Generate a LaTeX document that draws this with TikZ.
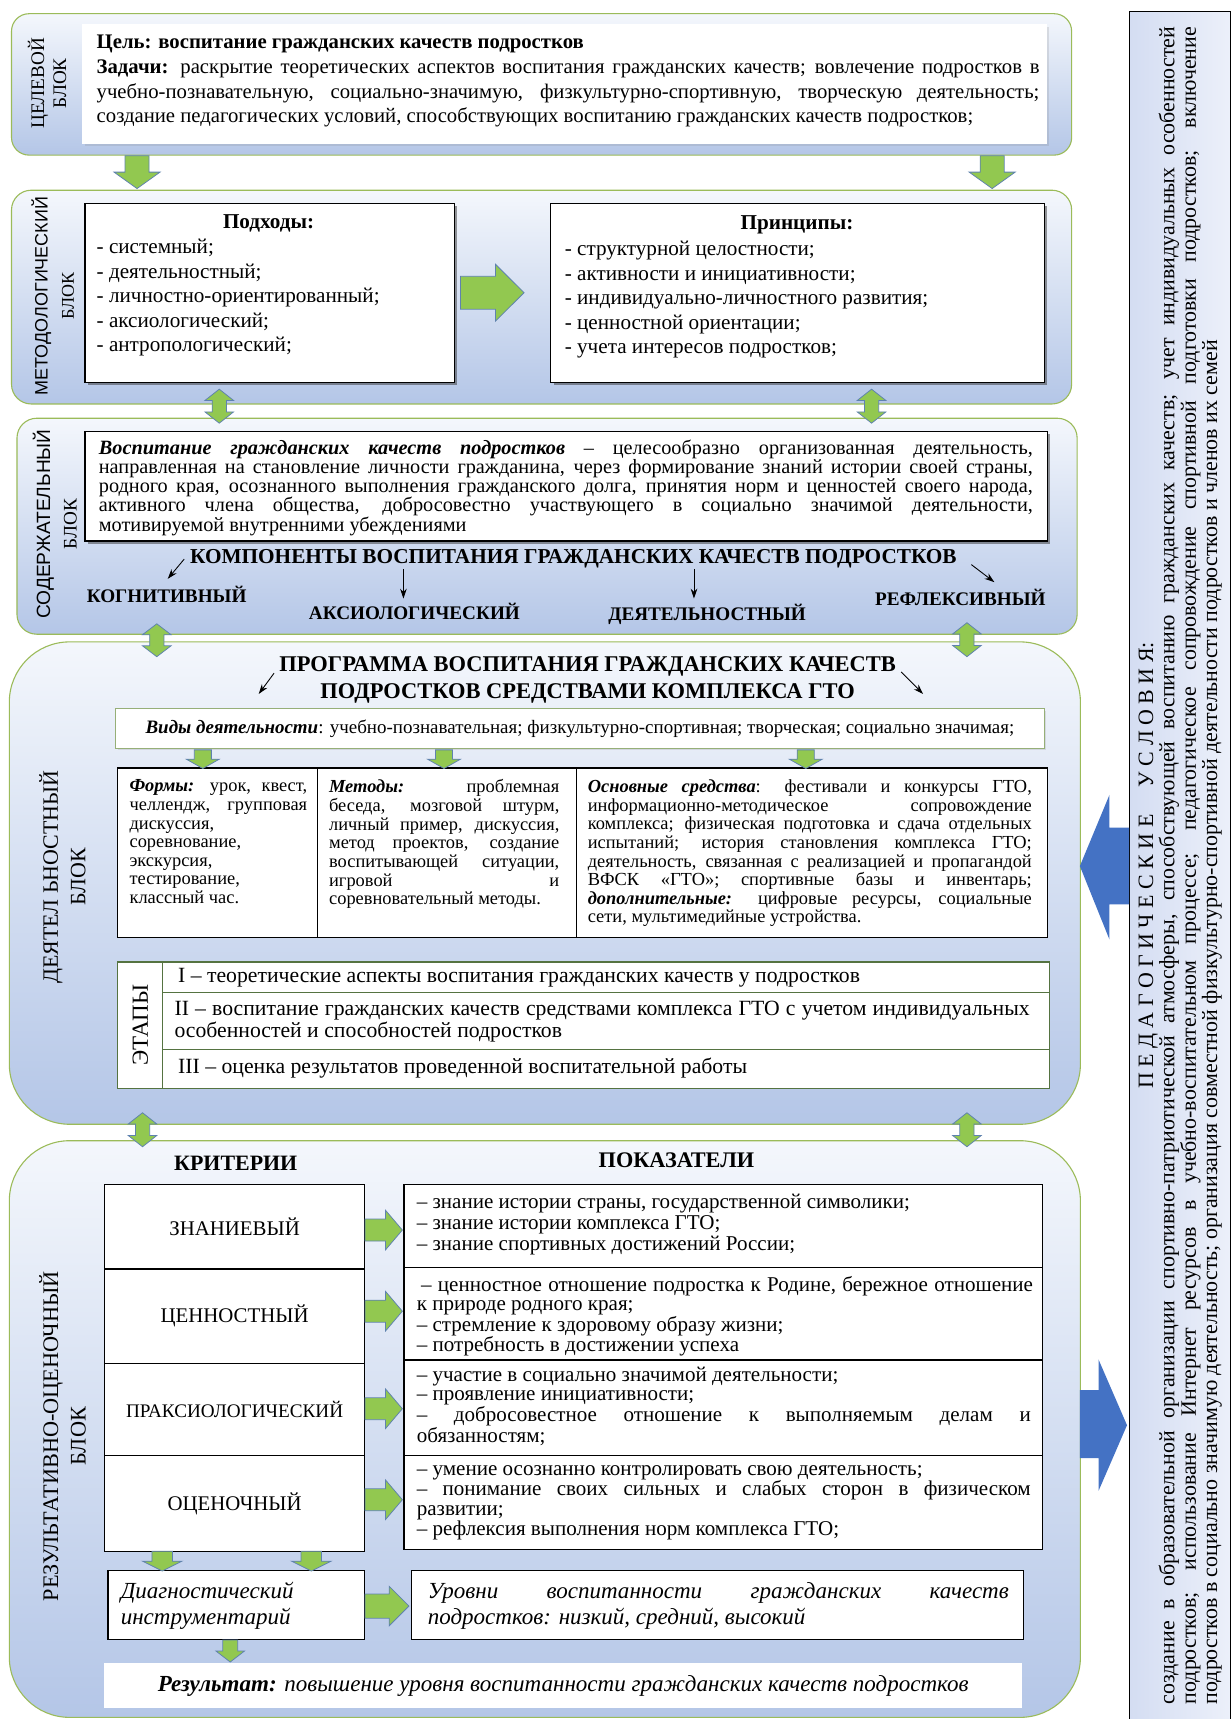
\documentclass[tikz,border=0pt]{standalone}
\usepackage{fontspec}
\setmainfont{Liberation Serif}
\setsansfont{Liberation Sans}
\usetikzlibrary{shadows,arrows.meta}
\definecolor{grnline}{RGB}{155,187,89}
\definecolor{blkTop}{RGB}{244,247,252}
\definecolor{blkBot}{RGB}{180,198,231}
\definecolor{garrfill}{RGB}{146,200,80}
\definecolor{garrline}{RGB}{95,130,175}
\definecolor{bluearr}{RGB}{68,114,196}
\definecolor{panelA}{RGB}{212,221,242}
\definecolor{panelB}{RGB}{236,240,250}
\definecolor{etline}{RGB}{85,115,65}
\definecolor{vidline}{RGB}{150,175,120}
\newcommand\fs[2]{\fontsize{#1}{#2}\selectfont}
\newcommand\bi[1]{\textbf{\textit{#1}}}
\newcommand\shr{\spaceskip=0.25em plus 0.3em minus 0.09em\relax}
\setlength\parindent{0pt}
\AtBeginDocument{\hyphenpenalty=10000 \exhyphenpenalty=10000 \tolerance=9000 \emergencystretch=15pt}
\tikzset{
  blk/.style={draw=grnline, line width=1pt, rounded corners=#1, top color=blkTop, bottom color=blkBot, anchor=north west},
  bx/.style={draw=black, line width=1pt, fill=white, anchor=north west},
  shd/.style={drop shadow={shadow xshift=2.5pt, shadow yshift=-2.5pt, opacity=0.5, fill=black!80}},
  garr/.style={fill=garrfill, draw=garrline, line width=0.7pt, line join=miter},
  barr/.style={-{Stealth[length=9pt,width=6pt]}, line width=0.8pt, black},
  txt/.style={anchor=north west, align=justify, inner sep=0pt},
  lab/.style={rotate=90, align=center, inner sep=0pt},
}
\newcommand\ArrD[4]{%
  \pgfmathsetmacro\myAh{#4}\pgfmathsetmacro\myAs{#4*0.52}\pgfmathsetmacro\myAy{#2+(#3-#2)*0.5}%
  \filldraw[garr] (#1-\myAs,#2) -- (#1+\myAs,#2) -- (#1+\myAs,\myAy) -- (#1+\myAh,\myAy) -- (#1,#3) -- (#1-\myAh,\myAy) -- (#1-\myAs,\myAy) -- cycle;}
\newcommand\ArrUD[4]{%
  \pgfmathsetmacro\myAh{#4}\pgfmathsetmacro\myAs{#4*0.5}\pgfmathsetmacro\myAa{#2+(#3-#2)*0.33}\pgfmathsetmacro\myAb{#3-(#3-#2)*0.33}%
  \filldraw[garr] (#1,#2) -- (#1+\myAh,\myAa) -- (#1+\myAs,\myAa) -- (#1+\myAs,\myAb) -- (#1+\myAh,\myAb) -- (#1,#3) -- (#1-\myAh,\myAb) -- (#1-\myAs,\myAb) -- (#1-\myAs,\myAa) -- (#1-\myAh,\myAa) -- cycle;}
\newcommand\ArrR[5]{%
  \pgfmathsetmacro\myAx{#3-(#3-#2)*0.45}%
  \filldraw[garr] (#2,#1-#5) -- (\myAx,#1-#5) -- (\myAx,#1-#4) -- (#3,#1) -- (\myAx,#1+#4) -- (\myAx,#1+#5) -- (#2,#1+#5) -- cycle;}
\begin{document}
\begin{tikzpicture}[x=1pt,y=-1pt]
\useasboundingbox (0,0) rectangle (1123,1568);
\fill[white] (0,0) rectangle (1123,1568);

% ---------------- Block 1
\node[blk=16pt, minimum width=967pt, minimum height=129pt] (b1) at (10,12) {};
\node[fill=white, anchor=north west, minimum width=880pt, minimum height=109pt, drop shadow={shadow xshift=2pt,shadow yshift=-2pt,opacity=0.2}] (goal) at (75,22) {};
\node[txt, text width=860pt, font=\fs{18.9}{22.5}] (goaltxt) at (88,32) {\shr\textbf{Цель: воспитание гражданских качеств подростков}\\\textbf{Задачи:} раскрытие теоретических аспектов воспитания гражданских качеств; вовлечение подростков в\linebreak учебно-познавательную, социально-значимую, физкультурно-спортивную, творческую деятельность;\linebreak создание педагогических условий, способствующих воспитанию гражданских качеств подростков;};
\node[lab, font=\fs{17.5}{20}] (b1lab) at (43,76) {ЦЕЛЕВОЙ\\БЛОК};

% ---------------- Block 2
\node[blk=18pt, minimum width=967pt, minimum height=195pt] (b2) at (10,173) {};
\node[lab, font=\fs{16.4}{24}] (b2lab) at (48,270) {{\sffamily МЕТОДОЛОГИЧЕСКИЙ}\\БЛОК};
\node[bx, shd, minimum width=337pt, minimum height=163pt] (pod) at (77,185) {};
\node[bx, shd, minimum width=450pt, minimum height=163pt] (pri) at (502,185) {};
\node[font=\fs{19.3}{22}\bfseries] (podT) at (245,204) {Подходы:};
\node[txt, align=left, font=\fs{19.3}{22.3}] (podL) at (88,218) {- системный;\\- деятельностный;\\- личностно-ориентированный;\\- аксиологический;\\- антропологический;};
\node[font=\fs{19.3}{22}\bfseries] (priT) at (727,205) {Принципы:};
\node[txt, align=left, font=\fs{19.3}{22.3}] (priL) at (515,220) {- структурной целостности;\\- активности и инициативности;\\- индивидуально-личностного развития;\\- ценностной ориентации;\\- учета интересов подростков;};

% ---------------- Block 3
\node[blk=18pt, minimum width=967pt, minimum height=197pt] (b3) at (15,381) {};
\node[lab, font=\fs{17.5}{24}] (b3lab) at (50,478) {{\sffamily СОДЕРЖАТЕЛЬНЫЙ}\\БЛОК};
\node[bx, shd, minimum width=878pt, minimum height=100pt] (defbox) at (77,393) {};
\node[txt, text width=852pt, font=\fs{18.5}{17.5}] (deftxt) at (90,401) {\shr\bi{Воспитание гражданских качеств подростков} – целесообразно организованная деятельность,\linebreak направленная на становление личности гражданина, через формирование знаний истории своей страны,\linebreak родного края, осознанного выполнения гражданского долга, принятия норм и ценностей своего народа,\linebreak активного члена общества, добросовестно участвующего в социально значимой деятельности,\linebreak мотивируемой внутренними убеждениями};
\node[font=\fs{19.4}{22}\bfseries] (comp) at (523,510) {КОМПОНЕНТЫ ВОСПИТАНИЯ ГРАЖДАНСКИХ КАЧЕСТВ ПОДРОСТКОВ};
\node[font=\fs{17.5}{20}\bfseries] (kog) at (152,542) {КОГНИТИВНЫЙ};
\node[font=\fs{17.5}{20}\bfseries] (aks) at (378,558) {АКСИОЛОГИЧЕСКИЙ};
\node[font=\fs{17.5}{20}\bfseries] (deya) at (645,560) {ДЕЯТЕЛЬНОСТНЫЙ};
\node[font=\fs{17.5}{20}\bfseries] (ref) at (876,545) {РЕФЛЕКСИВНЫЙ};
\coordinate (c1s) at (168,510); \coordinate (c1e) at (153,528);
\coordinate (c2s) at (368,519); \coordinate (c2e) at (368,546);
\coordinate (c3s) at (633,519); \coordinate (c3e) at (633,546);
\coordinate (c4s) at (886,515); \coordinate (c4e) at (907,531);
\draw[barr] (c1s) -- (c1e);
\draw[barr] (c2s) -- (c2e);
\draw[barr] (c3s) -- (c3e);
\draw[barr] (c4s) -- (c4e);

% ---------------- Block 4
\node[blk=55pt, minimum width=977pt, minimum height=440pt] (b4) at (8,585) {};
\node[lab, font=\fs{20}{25}] (b4lab) at (57,800) {ДЕЯТЕЛ ЬНОСТНЫЙ\\БЛОК};
\node[align=center, font=\fs{20.5}{25}\bfseries] (prog) at (536,620) {ПРОГРАММА ВОСПИТАНИЯ ГРАЖДАНСКИХ КАЧЕСТВ\\ПОДРОСТКОВ СРЕДСТВАМИ КОМПЛЕКСА ГТО};
\coordinate (p1s) at (250,614); \coordinate (p1e) at (236,633);
\coordinate (p2s) at (822,613); \coordinate (p2e) at (842,633);
\draw[barr] (p1s) -- (p1e);
\draw[barr] (p2s) -- (p2e);
\node[fill=white, draw=vidline, line width=1pt, anchor=north west, minimum width=847pt, minimum height=36pt, drop shadow={shadow xshift=2pt,shadow yshift=-2pt,opacity=0.2}] (vid) at (105,646) {};
\node[font=\fs{17.3}{20}] (vidtxt) at (vid.center) {\bi{Виды деятельности}: учебно-познавательная; физкультурно-спортивная; творческая; социально значимая;};
\node[bx, minimum width=182pt, minimum height=155pt] (form) at (107,700) {};
\node[bx, minimum width=236pt, minimum height=155pt] (meth) at (289,700) {};
\node[bx, minimum width=430pt, minimum height=155pt] (sred) at (525,700) {};
\node[txt, text width=162pt, font=\fs{16.8}{17}] (formtxt) at (118,711) {\shr\bi{Формы:} урок, квест,\linebreak челлендж, групповая\linebreak дискуссия,\linebreak соревнование,\linebreak экскурсия,\linebreak тестирование,\linebreak классный час.};
\node[txt, text width=210pt, font=\fs{16.8}{17}] (methtxt) at (300,711) {\shr\bi{Методы:} проблемная\linebreak беседа, мозговой штурм,\linebreak личный пример, дискуссия,\linebreak метод проектов, создание\linebreak воспитывающей ситуации,\linebreak игровой и\linebreak соревновательный методы.};
\node[txt, text width=405pt, font=\fs{16.8}{17}] (sredtxt) at (536,711) {\shr\bi{Основные средства}: фестивали и конкурсы ГТО,\linebreak информационно-методическое сопровождение\linebreak комплекса; физическая подготовка и сдача отдельных\linebreak испытаний; история становления комплекса ГТО;\linebreak деятельность, связанная с реализацией и пропагандой\linebreak ВФСК «ГТО»; спортивные базы и инвентарь;\linebreak \bi{дополнительные:} цифровые ресурсы, социальные\linebreak сети, мультимедийные устройства.};
\node[draw=etline, fill=white, line width=1pt, anchor=north west, minimum width=41pt, minimum height=115pt] (etl) at (107,877) {};
\node[lab, font=\fs{21}{22}] (etlab) at (etl.center) {ЭТАПЫ};
\node[draw=etline, fill=white, line width=1pt, anchor=north west, minimum width=809pt, minimum height=28pt] (et1) at (148,877) {};
\node[draw=etline, fill=white, line width=1pt, anchor=north west, minimum width=809pt, minimum height=52pt] (et2) at (148,905) {};
\node[draw=etline, fill=white, line width=1pt, anchor=north west, minimum width=809pt, minimum height=35pt] (et3) at (148,957) {};
\node[anchor=west, font=\fs{19.8}{20}] (et1t) at (159,892) {I – теоретические аспекты воспитания гражданских качеств у подростков};
\node[txt, text width=780pt, font=\fs{19.8}{20}] (et2t) at (159,913) {\shr II – воспитание гражданских качеств средствами комплекса ГТО с учетом индивидуальных\linebreak особенностей и способностей подростков};
\node[anchor=west, font=\fs{19.8}{20}] (et3t) at (159,974) {III – оценка результатов проведенной воспитательной работы};

% ---------------- Block 5
\node[blk=55pt, minimum width=977pt, minimum height=526pt] (b5) at (8,1040) {};
\node[lab, font=\fs{20.3}{25}] (b5lab) at (57,1310) {РЕЗУЛЬТАТИВНО-ОЦЕНОЧНЫЙ\\БЛОК};
\node[font=\fs{20}{22}\bfseries] (krit) at (215,1061) {КРИТЕРИИ};
\node[font=\fs{20.3}{22}\bfseries] (pok) at (617,1058) {ПОКАЗАТЕЛИ};
\node[bx, minimum width=237pt, minimum height=77pt, font=\fs{19}{22}] (k1) at (95,1080) {ЗНАНИЕВЫЙ};
\node[bx, minimum width=237pt, minimum height=86pt, font=\fs{19}{22}] (k2) at (95,1157) {ЦЕННОСТНЫЙ};
\node[bx, minimum width=237pt, minimum height=84pt, font=\fs{17.5}{22}] (k3) at (95,1243) {ПРАКСИОЛОГИЧЕСКИЙ};
\node[bx, minimum width=237pt, minimum height=88pt, font=\fs{19}{22}] (k4) at (95,1327) {ОЦЕНОЧНЫЙ};
\node[bx, minimum width=582pt, minimum height=76pt] (i1) at (368,1080) {};
\node[bx, minimum width=582pt, minimum height=84pt] (i2) at (368,1156) {};
\node[bx, minimum width=582pt, minimum height=87pt] (i3) at (368,1240) {};
\node[bx, minimum width=582pt, minimum height=86pt] (i4) at (368,1327) {};
\node[txt, text width=560pt, font=\fs{19.2}{19}] (i1t) at (380,1089) {\shr– знание истории страны, государственной символики;\\– знание истории комплекса ГТО;\\– знание спортивных достижений России;};
\node[txt, text width=562pt, font=\fs{19.2}{17.5}] (i2t) at (380,1164) {\shr\hspace*{4pt}– ценностное отношение подростка к Родине, бережное отношение\linebreak к природе родного края;\\– стремление к здоровому образу жизни;\\– потребность в достижении успеха};
\node[txt, text width=560pt, font=\fs{19.2}{17.5}] (i3t) at (380,1247) {\shr– участие в социально значимой деятельности;\\– проявление инициативности;\\– добросовестное отношение к выполняемым делам и\linebreak обязанностям;};
\node[txt, text width=560pt, font=\fs{19.2}{18}] (i4t) at (380,1337) {\shr– умение осознанно контролировать свою деятельность;\\– понимание своих сильных и слабых сторон в физическом\linebreak развитии;\\– рефлексия выполнения норм комплекса ГТО;};
\node[bx, minimum width=234pt, minimum height=63pt] (diag) at (98,1432) {};
\node[txt, align=left, font=\fs{21}{24}\itshape] (diagt) at (110,1443) {Диагностический\\инструментарий};
\node[bx, minimum width=558pt, minimum height=63pt] (urov) at (375,1432) {};
\node[txt, text width=530pt, font=\fs{21}{24}\itshape] (urovt) at (390,1443) {Уровни воспитанности гражданских качеств\linebreak подростков: низкий, средний, высокий};
\node[fill=white, anchor=north west, minimum width=837pt, minimum height=41pt] (res) at (95,1517) {};
\node[font=\fs{21}{22}\itshape] (rest) at (res.center) {\textbf{Результат:} повышение уровня воспитанности гражданских качеств подростков};

% ---------------- green arrows
\ArrD{125}{142}{172}{21}
\ArrD{905}{142}{172}{21}
\ArrR{267}{420}{478}{26}{15}
\ArrUD{200}{355}{386}{13}
\ArrUD{795}{355}{386}{13}
\ArrUD{143}{569}{599}{13}
\ArrUD{882}{568}{599}{13}
\ArrD{185}{684}{701}{15}
\ArrD{405}{684}{701}{15}
\ArrD{735}{684}{701}{15}
\ArrUD{130}{1015}{1046}{13}
\ArrUD{882}{1015}{1046}{13}
\ArrR{1122}{333}{367}{18}{10}
\ArrR{1196}{333}{367}{18}{10}
\ArrR{1285}{333}{367}{18}{10}
\ArrR{1368}{333}{367}{18}{10}
\ArrD{148}{1415}{1433}{18}
\ArrD{284}{1415}{1433}{18}
\ArrR{1465}{333}{373}{18}{11}
\ArrD{210}{1496}{1516}{13}

% ---------------- right panel
\node[draw=black, line width=1pt, left color=panelA, right color=panelB, minimum width=92pt, minimum height=1558pt, anchor=north west] (panel) at (1030,10) {};
\node[rotate=90, text width=1530pt, align=justify, font=\fs{20}{19.5}, inner sep=0pt] (paneltxt) at (panel.center) {{\centering П Е Д А Г О Г И Ч Е С К И Е \quad У С Л О В И Я:\par}создание в образовательной организации спортивно-патриотической атмосферы, способствующей воспитанию гражданских качеств; учет индивидуальных особенностей\linebreak подростков; использование Интернет ресурсов в учебно-воспитательном процессе; педагогическое сопровождение спортивной подготовки подростков; включение\linebreak подростков в социально значимую деятельность; организация совместной физкультурно-спортивной деятельности подростков и членов их семей};
\fill[bluearr] (1030,755) -- (1012,755) -- (1012,725) -- (985,790) -- (1012,857) -- (1012,825) -- (1030,825) -- cycle;
\fill[bluearr] (985,1268) -- (1002,1268) -- (1002,1240) -- (1028,1300) -- (1002,1360) -- (1002,1330) -- (985,1330) -- cycle;
\end{tikzpicture}
\end{document}
